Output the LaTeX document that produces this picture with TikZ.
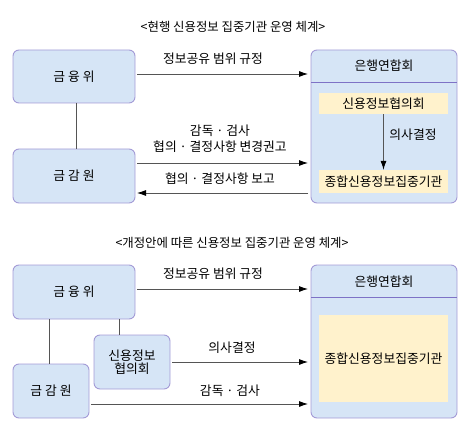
\documentclass[tikz,border=0pt]{standalone}
\usepackage{fontspec}
\setmainfont{Noto Sans CJK KR}
\usetikzlibrary{arrows.meta}
\definecolor{boxfill}{HTML}{D6E5F6}
\definecolor{boxline}{HTML}{A39BD6}
\definecolor{divline}{HTML}{7E72C6}
\definecolor{yel}{HTML}{FFF2CC}
\definecolor{arr}{HTML}{555555}
\tikzset{
  bluebox/.style={draw=boxline, fill=boxfill, line width=0.9pt, rounded corners=6pt},
  yelbox/.style={fill=yel, draw=none},
  conn/.style={draw=arr, line width=0.8pt, -{Latex[length=9pt,width=6pt,black]}},
  plain/.style={draw=arr, line width=0.8pt},
  lbl/.style={font=\fontsize{12.8}{14}\selectfont, inner sep=0pt},
  ttl/.style={font=\fontsize{12.4}{14}\selectfont, inner sep=0pt},
}
\begin{document}
\begin{tikzpicture}[x=1pt,y=-1pt]
\useasboundingbox (0,0) rectangle (470,430);
% ---------- top diagram ----------
\node[ttl] (t1) at (233,27) {<현행 신용정보 집중기관 운영 체계>};
\draw[bluebox] (13,50) rectangle (135,103);
\node[lbl] (fsc1) at (74,76.5) {금 융 위};
\draw[bluebox] (13,149) rectangle (135,203);
\node[lbl] (fss1) at (74,176) {금 감 원};
\coordinate (fscb1) at (76,103);
\coordinate (fsst1) at (76,149);
\draw[plain] (fscb1) -- (fsst1);
\draw[bluebox] (311,50) rectangle (457,203);
\coordinate (d1a) at (311,82);
\coordinate (d1b) at (457,82);
\draw[divline, line width=0.9pt] (d1a) -- (d1b);
\node[lbl] (kfb1) at (384,66) {은행연합회};
\node[yelbox, minimum width=129pt, minimum height=21pt] (cic1) at (383.5,103.5) {};
\node[lbl] at (cic1) {신용정보협의회};
\node[yelbox, minimum width=129pt, minimum height=23pt] (cb1) at (383.5,181.5) {};
\node[lbl] at (cb1) {종합신용정보집중기관};
\draw[conn] (cic1.south) -- (cb1.north);
\node[lbl] at (413,135) {의사결정};
\coordinate (a1s) at (137,74); \coordinate (a1e) at (308,74);
\draw[conn] (a1s) -- (a1e);
\node[lbl] at (213,59) {정보공유 범위 규정};
\coordinate (a2s) at (137,163); \coordinate (a2e) at (308,163);
\draw[conn] (a2s) -- (a2e);
\node[lbl] at (220,131) {감독 · 검사};
\node[lbl] at (220,147) {협의 · 결정사항 변경권고};
\coordinate (a3s) at (308,193); \coordinate (a3e) at (137,193);
\draw[conn] (a3s) -- (a3e);
\node[lbl] at (220,179) {협의 · 결정사항 보고};
% ---------- bottom diagram ----------
\node[ttl] (t2) at (232,243) {<개정안에 따른 신용정보 집중기관 운영 체계>};
\draw[bluebox] (13,265) rectangle (135,319);
\node[lbl] (fsc2) at (74,292) {금 융 위};
\draw[bluebox] (13,364) rectangle (89,418);
\node[lbl] (fss2) at (51,391) {금 감 원};
\draw[bluebox] (94,335) rectangle (170,389);
\node[lbl, align=center] (cic2) at (132,362) {신용정보\\[-1pt]협의회};
\coordinate (l1a) at (49,319); \coordinate (l1b) at (49,364);
\draw[plain] (l1a) -- (l1b);
\coordinate (l2a) at (119,319); \coordinate (l2b) at (119,335);
\draw[plain] (l2a) -- (l2b);
\draw[bluebox] (311,265) rectangle (457,418);
\coordinate (d2a) at (311,297);
\coordinate (d2b) at (457,297);
\draw[divline, line width=0.9pt] (d2a) -- (d2b);
\node[lbl] (kfb2) at (384,282) {은행연합회};
\node[yelbox, minimum width=129pt, minimum height=87pt] (cb2) at (383.5,358.5) {};
\node[lbl] at (cb2) {종합신용정보집중기관};
\coordinate (b1s) at (137,289); \coordinate (b1e) at (308,289);
\draw[conn] (b1s) -- (b1e);
\node[lbl] at (213,274) {정보공유 범위 규정};
\coordinate (b2s) at (172,362); \coordinate (b2e) at (308,362);
\draw[conn] (b2s) -- (b2e);
\node[lbl] at (232,348) {의사결정};
\coordinate (b3s) at (91,404); \coordinate (b3e) at (308,404);
\draw[conn] (b3s) -- (b3e);
\node[lbl] at (230,391) {감독 · 검사};
\end{tikzpicture}
\end{document}
